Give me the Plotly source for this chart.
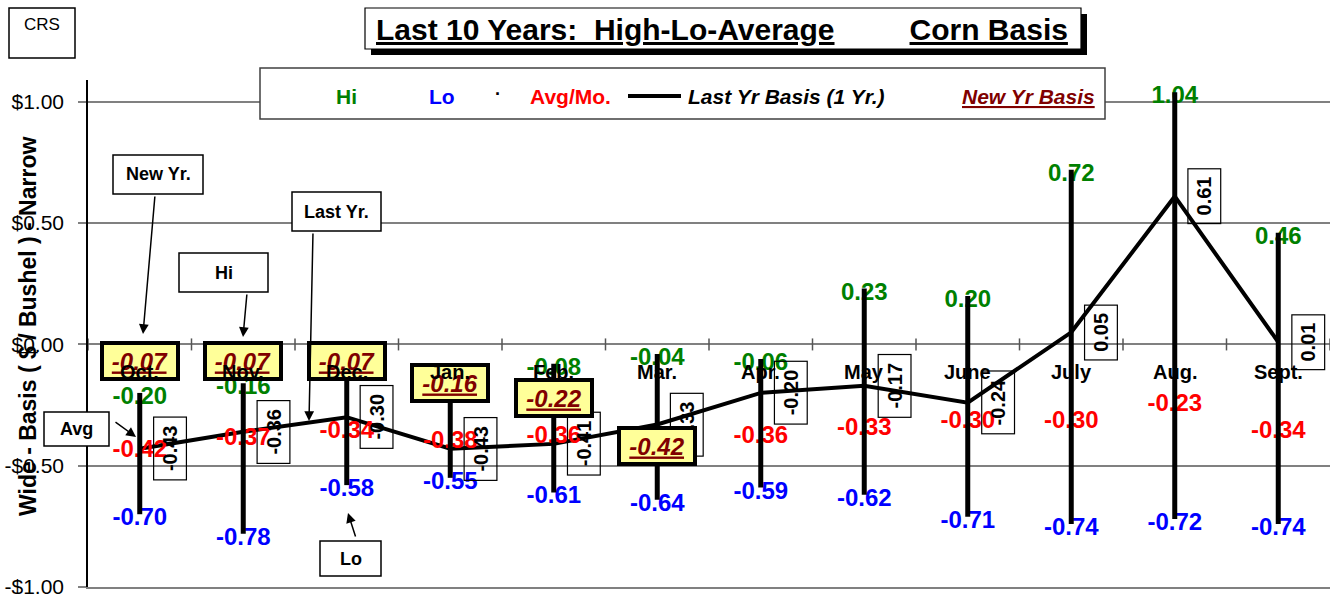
import plotly.graph_objects as go

# ---------------- data ----------------
months = ["Oct.", "Nov.", "Dec.", "Jan.", "Feb.", "Mar.", "Apr.", "May", "June", "July", "Aug.", "Sept."]
hi = [-0.20, -0.16, -0.10, -0.12, -0.08, -0.04, -0.06, 0.23, 0.20, 0.72, 1.04, 0.46]
lo = [-0.70, -0.78, -0.58, -0.55, -0.61, -0.64, -0.59, -0.62, -0.71, -0.74, -0.72, -0.74]
avg = [-0.42, -0.37, -0.34, -0.38, -0.36, -0.40, -0.36, -0.33, -0.30, -0.30, -0.23, -0.34]
last_yr = [-0.43, -0.36, -0.30, -0.43, -0.41, -0.33, -0.20, -0.17, -0.24, 0.05, 0.61, 0.01]
new_yr = [-0.07, -0.07, -0.07, -0.16, -0.22, -0.42, None, None, None, None, None, None]
ytick_vals = [-1.0, -0.5, 0.0, 0.5, 1.0]
ytick_text = ["-$1.00", "-$0.50", "$0.00", "$0.50", "$1.00"]

title_text = ("<u>Last 10 Years:&nbsp;&nbsp;High-Lo-Average</u>"
              "&nbsp;&nbsp;&nbsp;&nbsp;&nbsp;&nbsp;&nbsp;&nbsp;&nbsp;<u>Corn Basis</u>")
y_title = "Wide - Basis ( $ / Bushel ) - Narrow"

# ---------------- geometry helpers ----------------
W, H = 1340, 594
PL, PR, PT, PB = 88, 1330, 80, 587  # plot area in page pixels
FONT = "Arial, Liberation Sans, sans-serif"
Y_RANGE = [-1.0, 1.09]
# small downward nudge (in axis units, ~5px) so value labels sit centred like the original
LABEL_DY = 5 * (Y_RANGE[1] - Y_RANGE[0]) / (PB - PT)


def pxx(x):
    return (x - PL) / (PR - PL)


def pxy(y):
    return (PB - y) / (PB - PT)


xs = list(range(len(months)))

fig = go.Figure()

# last year basis line
fig.add_trace(go.Scatter(x=xs, y=last_yr, mode="lines",
                         line=dict(color="black", width=4), hoverinfo="skip",
                         showlegend=False))

# text labels for hi / lo / avg
LBL = 24
for series, col in ((hi, "#008000"), (lo, "#0000FF"), (avg, "#FF0000")):
    fig.add_trace(go.Scatter(x=xs, y=[v - LABEL_DY for v in series], mode="text",
                             text=[f"{v:.2f}" for v in series],
                             textposition="middle center",
                             textfont=dict(family=FONT, size=LBL, color=col, weight="bold"),
                             showlegend=False, hoverinfo="skip"))

# hi-lo bars
bx, by = [], []
for i in xs:
    bx += [i, i, None]
    by += [lo[i], hi[i], None]
fig.add_trace(go.Scatter(x=bx, y=by, mode="lines", line=dict(color="black", width=5),
                         hoverinfo="skip", showlegend=False))

annotations = []
shapes = []

# rotated boxed labels for last year basis
for i, v in enumerate(last_yr):
    annotations.append(dict(x=i, y=v, xref="x", yref="y", text=f"<b>{v:.2f}</b>",
                            showarrow=False, textangle=-90, xshift=30,
                            xanchor="center", yanchor="middle",
                            font=dict(family=FONT, size=20, color="black"),
                            bordercolor="black", borderwidth=1.2, borderpad=4,
                            width=54 if v < 0 else 46, height=24))

# yellow New Yr boxes
for i, v in enumerate(new_yr):
    if v is None:
        continue
    annotations.append(dict(x=i, y=v, xref="x", yref="y",
                            text=f"<b><i><u>{v:.2f}</u></i></b>", showarrow=False,
                            xanchor="center", yanchor="middle",
                            font=dict(family=FONT, size=24, color="#800000"),
                            bgcolor="#FFFF99", bordercolor="black", borderwidth=4,
                            borderpad=2, width=68, height=28))

# month (category) labels on the zero line
for i, m in enumerate(months):
    annotations.append(dict(x=i, y=0, xref="x", yref="y", text=f"<b>{m}</b>",
                            showarrow=False, yshift=-28, xanchor="center", yanchor="middle",
                            font=dict(family=FONT, size=20, color="black")))

# tick marks crossing the zero line at category boundaries
for k in range(len(months) + 1):
    shapes.append(dict(type="line", xref="x", yref="y", x0=k - 0.5, x1=k - 0.5,
                       ysizemode="pixel", yanchor=0, y0=-6, y1=6,
                       line=dict(color="#555555", width=1.5), layer="above"))


def paper_text(txt, xp, yp, size, color="black", xanchor="center"):
    annotations.append(dict(x=pxx(xp), y=pxy(yp), xref="paper", yref="paper", text=txt,
                            showarrow=False, xanchor=xanchor, yanchor="middle",
                            font=dict(family=FONT, size=size, color=color)))


def paper_rect(x0, x1, y0, y1, fill="white", line=None):
    shapes.append(dict(type="rect", xref="paper", yref="paper", x0=pxx(x0), x1=pxx(x1),
                       y0=pxy(y0), y1=pxy(y1), fillcolor=fill,
                       line=line if line else dict(color="black", width=1.5), layer="above"))


# title with shadow
paper_rect(371, 1087, 14, 55, fill="black", line=dict(width=0))
paper_rect(365, 1081, 8, 49, fill="white", line=dict(color="black", width=1.2))
paper_text(f"<b>{title_text}</b>", 722, 30, 30)

# CRS box
paper_rect(9, 75, 8, 58)
paper_text("CRS", 42, 25, 17)

# legend box
paper_rect(260, 1105, 68, 119, line=dict(color="#404040", width=1.5))
LYP = 96
paper_text("<b>Hi</b>", 346, LYP, 21, "#008000")
paper_text("<b>Lo</b>", 442, LYP, 21, "#0000FF")
paper_text("<b>·</b>", 498, LYP - 2, 18, "black")
paper_text("<b>Avg/Mo.</b>", 570, LYP, 21, "#FF0000")
paper_text("<b><i>Last Yr Basis (1 Yr.)</i></b>", 686, LYP, 21, "black", xanchor="left")
paper_text("<b><i><u>New Yr Basis</u></i></b>", 1028, LYP, 21, "#800000")
shapes.append(dict(type="line", xref="paper", yref="paper", x0=pxx(628), x1=pxx(681),
                   y0=pxy(LYP), y1=pxy(LYP), line=dict(color="black", width=4), layer="above"))

# callout boxes
callouts = [
    ("New Yr.", 113, 203, 155, 194),
    ("Hi", 179, 268, 253, 292),
    ("Last Yr.", 292, 381, 192, 231),
    ("Avg", 44, 109, 412, 446),
    ("Lo", 320, 381, 541, 576),
]
for txt, x0, x1, y0, y1 in callouts:
    paper_rect(x0, x1, y0, y1)
    paper_text(f"<b>{txt}</b>", (x0 + x1) / 2, (y0 + y1) / 2, 18)

# arrows (tail -> head), in page pixels
arrows = [
    (155, 195, 143, 334),
    (247, 293, 243, 337),
    (313, 232, 309, 421),
    (114, 421, 136, 437),
    (356, 538, 348, 513),
]
for tx, ty, hx, hy in arrows:
    annotations.append(dict(x=pxx(hx), y=pxy(hy), xref="paper", yref="paper", text="",
                            showarrow=True, ax=tx - hx, ay=ty - hy, arrowhead=2,
                            arrowsize=1.3, arrowwidth=1.5, arrowcolor="black", standoff=0))

# y-axis title
annotations.append(dict(x=pxx(28), y=pxy(327), xref="paper", yref="paper",
                        text=f"<b>{y_title}</b>", showarrow=False, textangle=-90,
                        xanchor="center", yanchor="middle",
                        font=dict(family=FONT, size=23, color="black")))

fig.update_layout(
    width=W, height=H,
    autosize=False,
    margin=dict(l=PL, r=W - PR, t=PT, b=H - PB, autoexpand=False),
    paper_bgcolor="white", plot_bgcolor="white",
    showlegend=False,
    xaxis=dict(range=[-0.5, 11.5], showgrid=False, zeroline=False, showticklabels=False,
               showline=True, linecolor="#808080", linewidth=2, ticks="", automargin=False),
    yaxis=dict(range=Y_RANGE, tickvals=ytick_vals, ticktext=ytick_text,
               showgrid=True, gridcolor="#808080", gridwidth=1.5, zeroline=False,
               showline=True, linecolor="black", linewidth=1.5,
               ticks="outside", ticklen=8, tickcolor="#808080", tickwidth=1.5,
               ticklabelstandoff=10, ticklabeloverflow="allow", automargin=False,
               tickfont=dict(family=FONT, size=21, color="black")),
    annotations=annotations,
    shapes=shapes,
)

fig.write_html("out.html", config={"displayModeBar": False},
               post_script="document.body.style.margin='0';document.body.style.overflow='hidden';")
